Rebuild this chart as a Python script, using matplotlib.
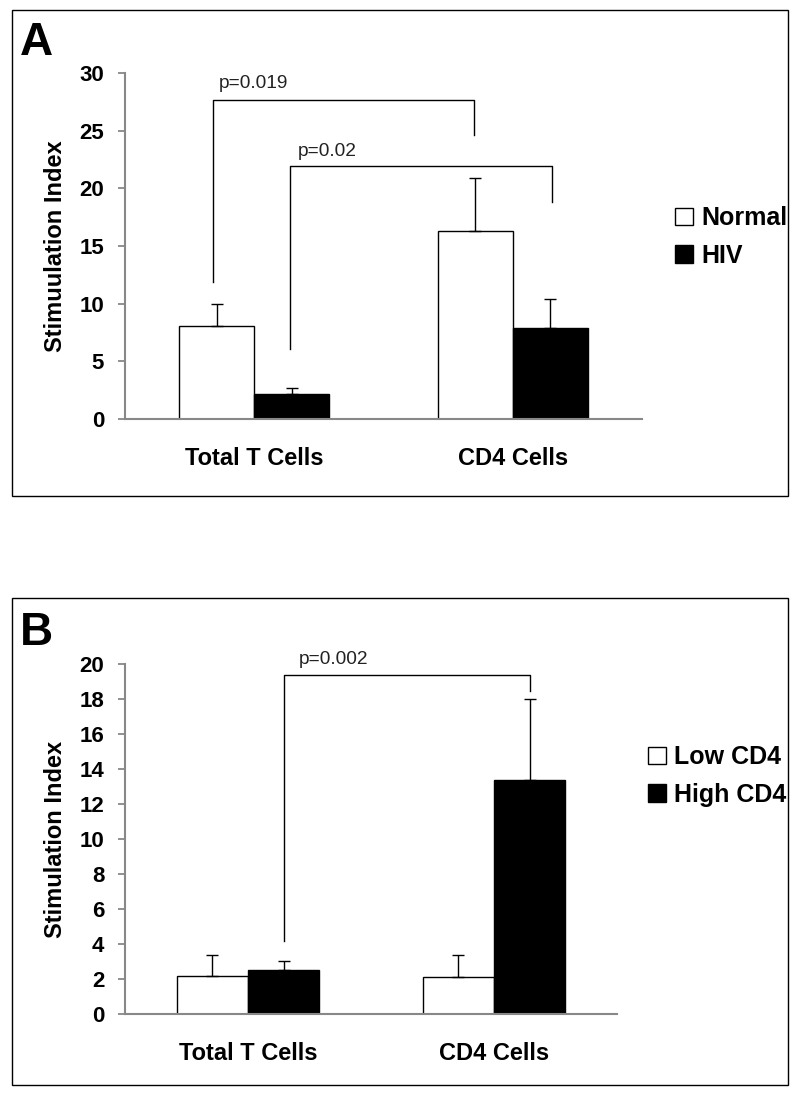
import matplotlib
matplotlib.use("Agg")
import matplotlib.pyplot as plt
from matplotlib.patches import Rectangle

plt.rcParams['font.family'] = ['Liberation Sans', 'DejaVu Sans']

# Panel A data
cats = ["Total T Cells", "CD4 Cells"]
normal = [8.1, 16.3]
normal_err = [1.9, 4.6]
hiv = [2.2, 7.9]
hiv_err = [0.5, 2.5]
# brackets: (x_left, x_right, y_top, y_left_bottom, y_right_bottom), label, label x, label y
brackets_a = [(-0.16, 0.85, 27.7, 11.9, 24.6), (0.137, 1.153, 21.95, 6.1, 18.8)]
labels_a = ["p=0.019", "p=0.02"]
label_pos_a = [(-0.137, 29.1), (0.167, 23.2)]

# Panel B data
low = [2.15, 2.1]
low_err = [1.25, 1.3]
high = [2.5, 13.4]
high_err = [0.55, 4.6]
brackets_b = [(0.148, 1.146, 19.37, 4.15, 18.47)]
labels_b = ["p=0.002"]
label_pos_b = [(0.207, 20.25)]

W, H = 800, 1100
fig = plt.figure(figsize=(8, 11), dpi=100)

def fx(px):
    return px / W

def fy(py):
    return 1 - py / H

# panel frames
for top, bot in [(10, 496), (598, 1085)]:
    fig.patches.append(Rectangle((fx(12), fy(bot)), fx(788) - fx(12), fy(top) - fy(bot),
                                 transform=fig.transFigure, fill=False, ec='black', lw=1.0))

bw = 0.29

def panel(ax, s1, e1, s2, e2, names, ymax, step, brackets, labels, label_pos, leg_anchor):
    x = list(range(len(cats)))
    xl = [i - bw / 2 for i in x]
    xr = [i + bw / 2 for i in x]
    ax.bar(xl, s1, bw, color='white', edgecolor='black', lw=1.0, label=names[0], zorder=2)
    ax.bar(xr, s2, bw, color='black', edgecolor='black', lw=1.0, label=names[1], zorder=2)
    ax.errorbar(xl, s1, yerr=[[0] * len(s1), e1], fmt='none', ecolor='black', elinewidth=1, capsize=4, zorder=3)
    ax.errorbar(xr, s2, yerr=[[0] * len(s2), e2], fmt='none', ecolor='black', elinewidth=1, capsize=4, zorder=3)
    for (a, b, top, yl, yr), lab, (tx, ty) in zip(brackets, labels, label_pos):
        ax.plot([a, a, b, b], [yl, top, top, yr], color='black', lw=1.0, clip_on=False)
        ax.text(tx, ty, lab, fontsize=13.8, ha='left', va='center', color='#222222')
    ax.set_xlim(-0.5, 1.5)
    ax.set_ylim(0, ymax)
    ax.set_yticks(range(0, ymax + 1, step))
    ax.set_xticks(x)
    ax.set_xticklabels(cats, fontsize=17, fontweight='bold')
    for lab in ax.get_yticklabels():
        lab.set_fontweight('bold')
        lab.set_fontsize(16)
    ax.tick_params(axis='x', length=0, pad=20)
    ax.tick_params(axis='y', length=5, width=1.3, color='#888888', pad=10, direction='out')
    for sp in ['top', 'right']:
        ax.spines[sp].set_visible(False)
    for sp in ['left', 'bottom']:
        ax.spines[sp].set_color('#888888')
        ax.spines[sp].set_linewidth(1.5)
    ax.set_ylabel("Stimuulation Index" if ymax == 30 else "Stimulation Index",
                  fontsize=17, fontweight='bold')
    ax.legend(loc='center left', bbox_to_anchor=leg_anchor, bbox_transform=fig.transFigure,
              frameon=False, borderpad=0, borderaxespad=0,
              handlelength=0.7, handleheight=0.7, handletextpad=0.35,
              labelspacing=0.55, prop={'weight': 'bold', 'size': 18})

axA = fig.add_axes([fx(125), fy(419), fx(642) - fx(125), fy(73) - fy(419)])
panel(axA, normal, normal_err, hiv, hiv_err, ["Normal", "HIV"], 30, 5,
      brackets_a, labels_a, label_pos_a, (fx(675), fy(237)))
axA.yaxis.set_label_coords(-0.112, 0.5)

axB = fig.add_axes([fx(125), fy(1014), fx(617) - fx(125), fy(664) - fy(1014)])
panel(axB, low, low_err, high, high_err, ["Low CD4", "High CD4"], 20, 2,
      brackets_b, labels_b, label_pos_b, (fx(648), fy(776)))
axB.yaxis.set_label_coords(-0.118, 0.5)

fig.text(fx(20), fy(55), "A", fontsize=33, fontweight='bold', ha='left', va='baseline')
fig.text(fx(20), fy(645), "B", fontsize=33, fontweight='bold', ha='left', va='baseline')

fig.savefig("out.png", dpi=100)
